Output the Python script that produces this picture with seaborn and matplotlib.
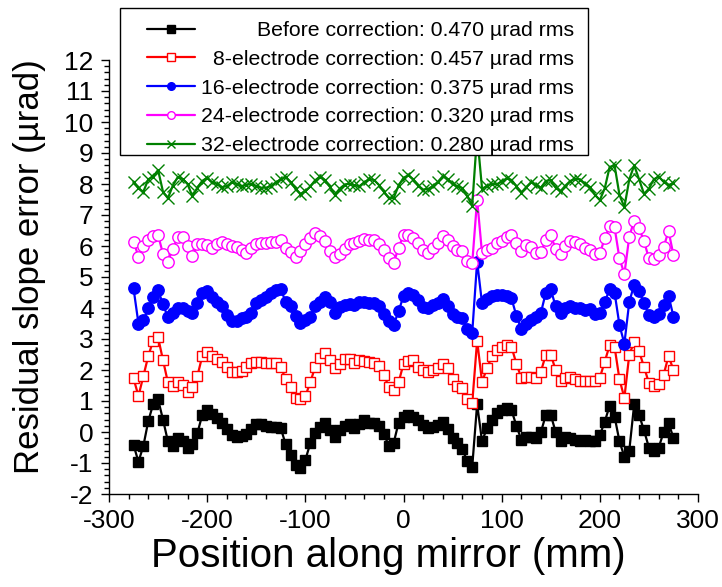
import matplotlib
matplotlib.use("Agg")
import matplotlib.pyplot as plt
import numpy as np
import pandas as pd
import seaborn as sns
from matplotlib.ticker import MultipleLocator, AutoMinorLocator
from matplotlib.patches import Rectangle

# ---------------- data ----------------
position_mm = list(range(-275, 280, 5))

before = [-0.42, -0.96, -0.45, 0.35, 0.90, 1.05, 0.40, -0.30, -0.45, -0.20,
          -0.28, -0.50, -0.40, -0.04, 0.55, 0.70, 0.58, 0.45, 0.30, 0.10,
          -0.10, -0.15, -0.12, -0.06, 0.10, 0.25, 0.25, 0.20, 0.15, 0.15,
          0.12, -0.40, -0.75, -1.05, -1.15, -0.90, -0.37, -0.04, 0.17, 0.28,
          0.06, -0.15, 0.06, 0.20, 0.25, 0.12, 0.25, 0.38, 0.28, 0.28,
          0.20, -0.05, -0.45, -0.35, 0.30, 0.50, 0.55, 0.48, 0.39, 0.23,
          0.12, 0.17, 0.23, 0.33, 0.10, -0.20, -0.35, -0.55, -0.95, -1.12,
          0.90, -0.30, 0.12, 0.40, 0.60, 0.71, 0.76, 0.71, 0.20, -0.25,
          -0.15, -0.15, -0.20, 0.00, 0.55, 0.55, 0.00, -0.30, -0.15, -0.20,
          -0.26, -0.30, -0.26, -0.30, -0.28, -0.10, 0.33, 0.85, 0.50, -0.30,
          -0.80, -0.60, 0.90, 0.55, 0.05, -0.50, -0.62, -0.50, 0.00, 0.30,
          -0.20]

elec8 = [1.73, 1.16, 1.80, 2.45, 2.95, 3.05, 2.32, 1.60, 1.50, 1.60,
         1.52, 1.30, 1.45, 1.80, 2.45, 2.58, 2.45, 2.35, 2.25, 2.10,
         1.92, 1.92, 1.98, 2.10, 2.22, 2.27, 2.27, 2.24, 2.21, 2.21,
         2.10, 1.70, 1.45, 1.10, 1.05, 1.15, 1.60, 2.10, 2.38, 2.54,
         2.32, 2.05, 2.20, 2.34, 2.36, 2.22, 2.32, 2.30, 2.25, 2.24,
         2.12, 1.85, 1.45, 1.35, 1.60, 2.20, 2.30, 2.32, 2.10, 2.00,
         1.95, 2.00, 2.05, 2.20, 2.05, 1.70, 1.50, 1.41, 1.05, 0.92,
         2.95, 1.62, 2.05, 2.45, 2.66, 2.75, 2.81, 2.75, 2.20, 1.75,
         1.78, 1.78, 1.73, 1.95, 2.50, 2.50, 2.00, 1.65, 1.73, 1.76,
         1.70, 1.63, 1.66, 1.63, 1.66, 1.75, 2.27, 2.80, 2.75, 1.70,
         1.10, 2.50, 2.90, 2.60, 2.10, 1.58, 1.48, 1.56, 1.85, 2.45,
         2.00]

elec16 = [4.63, 3.50, 3.60, 3.99, 4.35, 4.58, 4.12, 3.70, 3.85, 3.99,
          3.99, 3.90, 3.85, 4.15, 4.50, 4.56, 4.37, 4.20, 4.05, 3.77,
          3.58, 3.58, 3.68, 3.72, 3.85, 4.15, 4.26, 4.37, 4.47, 4.58,
          4.60, 4.20, 4.05, 3.75, 3.52, 3.60, 3.72, 4.08, 4.20, 4.37,
          4.20, 3.85, 4.02, 4.10, 4.12, 4.10, 4.18, 4.18, 4.17, 4.17,
          4.08, 3.82, 3.58, 3.45, 3.90, 4.38, 4.47, 4.42, 4.26, 4.04,
          3.99, 4.10, 4.15, 4.30, 4.05, 3.80, 3.72, 3.68, 3.32, 3.20,
          5.50, 4.15, 4.28, 4.40, 4.42, 4.42, 4.40, 4.31, 3.75, 3.32,
          3.50, 3.60, 3.72, 3.85, 4.50, 4.60, 4.05, 3.85, 4.00, 4.08,
          4.00, 3.99, 3.95, 3.97, 3.80, 3.83, 4.20, 4.60, 4.50, 3.45,
          2.85, 4.20, 4.75, 4.55, 4.15, 3.78, 3.70, 3.82, 4.10, 4.40,
          3.72]

elec24 = [6.14, 5.66, 6.00, 6.18, 6.32, 6.35, 5.75, 5.50, 5.90, 6.30,
          6.30, 6.00, 5.68, 6.05, 6.07, 6.03, 5.92, 6.05, 6.12, 6.06,
          6.00, 5.98, 5.88, 5.77, 5.95, 6.08, 6.09, 6.09, 6.13, 6.14,
          6.18, 5.92, 5.82, 5.66, 5.85, 6.05, 6.25, 6.41, 6.32, 6.15,
          5.85, 5.65, 5.75, 5.90, 6.05, 6.10, 6.17, 6.22, 6.19, 6.19,
          6.08, 5.87, 5.60, 5.45, 5.95, 6.35, 6.35, 6.26, 6.10, 5.87,
          5.76, 5.93, 6.10, 6.32, 6.20, 6.00, 5.87, 5.85, 5.52, 5.44,
          7.50, 5.76, 5.87, 5.93, 6.10, 6.16, 6.30, 6.35, 6.09, 5.84,
          6.02, 5.98, 5.77, 5.80, 6.20, 6.35, 5.90, 5.74, 6.00, 6.16,
          6.14, 6.05, 5.95, 5.88, 5.74, 5.76, 6.25, 6.64, 6.60, 5.60,
          5.10, 6.30, 6.82, 6.58, 6.15, 5.60, 5.58, 5.70, 5.97, 6.48,
          5.71]

elec32 = [8.08, 7.86, 7.75, 8.15, 8.24, 8.45, 7.75, 7.54, 7.95, 8.22,
          8.16, 8.00, 7.60, 7.88, 8.10, 8.20, 8.05, 8.00, 7.90, 7.93,
          8.05, 8.00, 7.93, 7.98, 7.99, 7.93, 7.88, 7.88, 7.94, 8.05,
          8.15, 8.22, 8.05, 7.85, 7.68, 7.77, 7.92, 8.12, 8.24, 8.13,
          7.91, 7.65, 7.85, 7.98, 8.01, 7.96, 7.93, 8.05, 8.15, 8.13,
          7.97, 7.75, 7.55, 7.55, 7.95, 8.20, 8.28, 8.15, 7.95, 7.82,
          7.84, 7.93, 8.07, 8.25, 8.16, 7.99, 7.92, 7.87, 7.60, 7.30,
          9.60, 7.85, 7.93, 8.01, 7.99, 8.08, 8.18, 8.13, 7.93, 7.72,
          7.90, 8.06, 7.97, 7.88, 8.10, 8.12, 7.88, 7.77, 7.95, 8.10,
          8.17, 8.14, 8.01, 7.90, 7.65, 7.48, 7.86, 8.55, 8.60, 7.65,
          7.25, 8.15, 8.60, 8.15, 7.68, 7.85, 8.15, 8.24, 8.07, 7.97,
          8.02]

labels = ["Before correction: 0.470 \u00b5rad rms",
          "8-electrode correction: 0.457 \u00b5rad rms",
          "16-electrode correction: 0.375 \u00b5rad rms",
          "24-electrode correction: 0.320 \u00b5rad rms",
          "32-electrode correction: 0.280 \u00b5rad rms"]
series = [before, elec8, elec16, elec24, elec32]

x_ticks = [-300, -200, -100, 0, 100, 200, 300]
y_ticks = list(range(-2, 13))

# ---------------- style ----------------
colors = ["#000000", "#FF0000", "#0000FF", "#FF00FF", "#008000"]
markers = ["s", "s", "o", "o", "x"]
faces = ["#000000", "white", "#0000FF", "white", "#008000"]
msizes = [7.8, 7.8, 8.2, 8.2, 8.0]

sns.set_style("ticks")
plt.rcParams["font.family"] = ["Liberation Sans", "DejaVu Sans"]
plt.rcParams["text.color"] = "black"
plt.rcParams["axes.labelcolor"] = "black"
plt.rcParams["xtick.color"] = "black"
plt.rcParams["ytick.color"] = "black"

W, H = 722, 587
fig = plt.figure(figsize=(W / 100, H / 100), dpi=100)
ax = fig.add_axes([109 / W, 1 - 494 / H, (698 - 109) / W, (494 - 60) / H])

handles = []
for vals, lab, c, m, fc, ms in zip(series, labels, colors, markers, faces, msizes):
    df = pd.DataFrame({"x": position_mm, "y": vals})
    sns.lineplot(data=df, x="x", y="y", ax=ax, color=c, marker=m,
                 markersize=ms, markerfacecolor=fc, markeredgecolor=c,
                 markeredgewidth=1.0, linewidth=1.6, label=lab, legend=False)
    handles.append(ax.lines[-1])

ax.set_xlim(-300, 300)
ax.set_ylim(-2, 12)
ax.set_xticks(x_ticks)
ax.set_xticklabels([str(v) for v in x_ticks])
ax.set_yticks(y_ticks)
ax.set_yticklabels([str(v) for v in y_ticks])
ax.xaxis.set_minor_locator(AutoMinorLocator(5))
ax.yaxis.set_minor_locator(AutoMinorLocator(5))
ax.tick_params(which="major", direction="out", length=6, width=1,
               labelsize=19, pad=5, color="black", labelcolor="black")
ax.tick_params(which="minor", direction="out", length=3.5, width=1, color="black")
for side in ["top", "right"]:
    ax.spines[side].set_visible(False)
for side in ["left", "bottom"]:
    ax.spines[side].set_linewidth(1.0)
    ax.spines[side].set_color("black")

ax.set_xlabel("Position along mirror (mm)", fontsize=29, color="black")
ax.set_ylabel("Residual slope error (\u00b5rad)", fontsize=25, color="black")
ax.xaxis.set_label_coords(0.474, -0.100)
ax.yaxis.set_label_coords(-0.107, 0.525)

# legend box (white, hides what lies beneath)
ax.add_patch(Rectangle((120 / W, 1 - 155 / H), 468 / W, 147 / H,
                       transform=fig.transFigure, facecolor="white",
                       edgecolor="black", linewidth=1.0, zorder=4,
                       clip_on=False))

leg = ax.legend(handles, labels, loc="upper left",
                bbox_to_anchor=(146.5 / W, 1 - 21 / H),
                bbox_transform=fig.transFigure, frameon=False,
                borderpad=0, borderaxespad=0, handlelength=2.27,
                handletextpad=0.3, labelspacing=0.46, fontsize=15.3)
leg.set_zorder(5)
for t in leg.get_texts():
    t.set_color("black")
for h in leg.legend_handles:
    h.set_markersize(5.5)

# right-align the legend texts while keeping the handles aligned
fig.canvas.draw()
r = fig.canvas.get_renderer()
texts = leg.get_texts()
widths = [t.get_window_extent(r).width for t in texts]
maxw = max(widths)
col = leg._legend_handle_box.get_children()[0]
for row, w in zip(col.get_children(), widths):
    row.sep = row.sep + (maxw - w) * 72.0 / fig.dpi

fig.savefig("out.png", dpi=100)
